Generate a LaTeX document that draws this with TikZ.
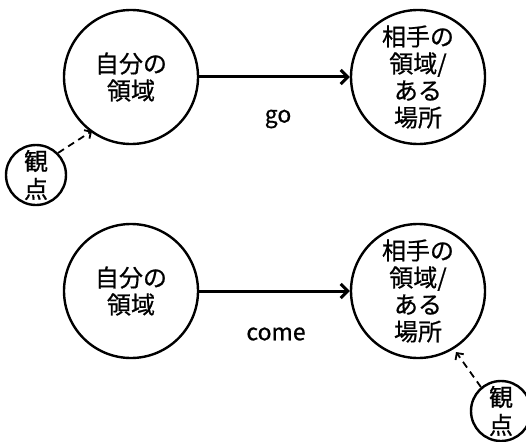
\documentclass[tikz,border=0pt]{standalone}
\usepackage{fontspec}
\setmainfont{Noto Sans CJK JP}[FakeBold=0.7]
\usetikzlibrary{arrows.meta}
\begin{document}
\begin{tikzpicture}[x=1pt,y=-1pt,
  big/.style={circle,draw,line width=2.4pt,minimum size=134pt,inner sep=0pt,align=center,font=\fontsize{24}{27}\selectfont},
  small/.style={circle,draw,line width=2.4pt,minimum size=60pt,inner sep=0pt,align=center,font=\fontsize{24}{28}\selectfont},
  mainarrow/.style={line width=3pt,-{Straight Barb[length=7pt,width=14pt,line width=3pt]}},
  viewarrow/.style={line width=1.8pt,dashed,dash pattern=on 7pt off 5pt,-{Straight Barb[length=5pt,width=10pt,line width=1.8pt]}},
  lab/.style={font=\fontsize{23}{25}\selectfont}]
\useasboundingbox (0,0) rectangle (526,441);
\clip (0,0) rectangle (526,441);
% top
\node[big] (a1) at (131,77) {自分の\\領域};
\node[big] (b1) at (418,77) {相手の\\領域/\\ある\\場所};
\draw[mainarrow] (a1) -- (b1);
\node[lab] (go) at (278,119) {go};
\node[small] (v1) at (36,175) {観\\点};
\draw[viewarrow] (v1.45) -- (92,131);
% bottom
\node[big] (a2) at (131,291) {自分の\\領域};
\node[big] (b2) at (418,291) {相手の\\領域/\\ある\\場所};
\draw[mainarrow] (a2) -- (b2);
\node[lab] (come) at (276,334) {come};
\node[small] (v2) at (501,411) {観\\点};
\draw[viewarrow] (v2.130) -- (456,352);
\end{tikzpicture}
\end{document}
